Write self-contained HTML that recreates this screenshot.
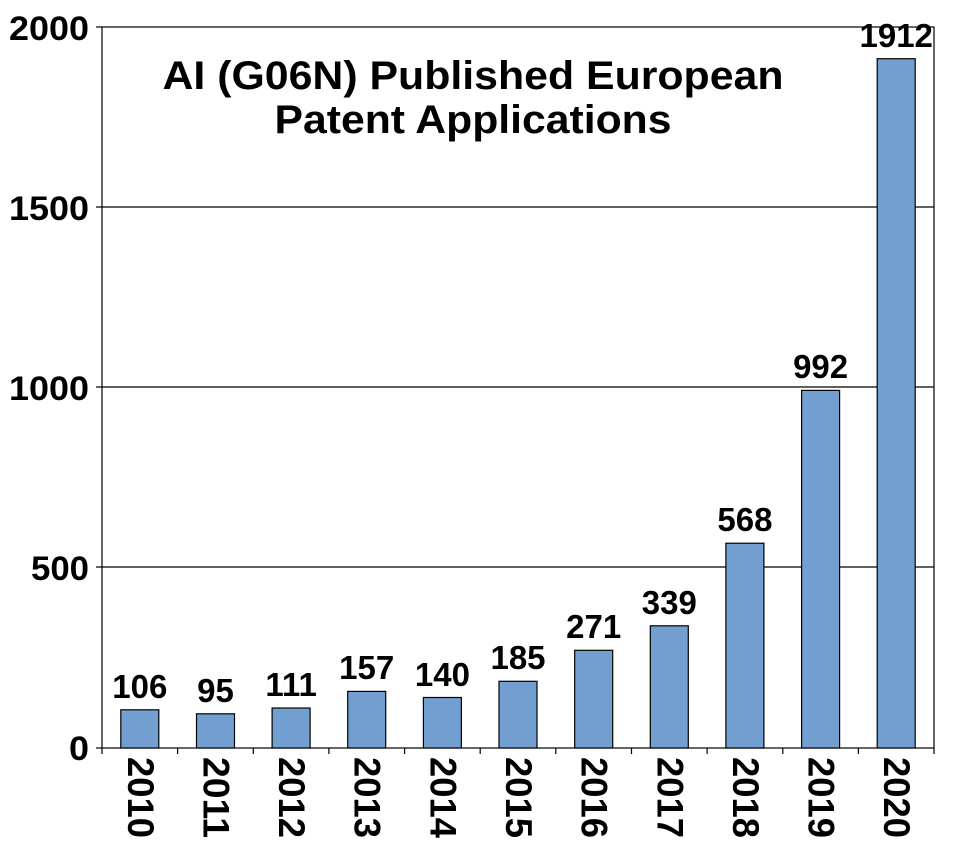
<!DOCTYPE html>
<html><head><meta charset="utf-8"><style>body{margin:0;background:#fff}svg{display:block}text{font-family:"Liberation Sans",Arial,sans-serif;font-weight:bold;fill:#000}</style></head>
<body>
<svg width="960" height="854" viewBox="0 0 960 854" xmlns="http://www.w3.org/2000/svg">
<g stroke="#000" stroke-width="1.2" fill="none">
<line x1="102" y1="207" x2="934" y2="207"/>
<line x1="102" y1="387" x2="934" y2="387"/>
<line x1="102" y1="567" x2="934" y2="567"/>
<rect x="102" y="27" width="832" height="721"/>
<line x1="96" y1="27" x2="102" y2="27"/>
<line x1="96" y1="207" x2="102" y2="207"/>
<line x1="96" y1="387" x2="102" y2="387"/>
<line x1="96" y1="567" x2="102" y2="567"/>
<line x1="96" y1="748" x2="102" y2="748"/>
<line x1="102" y1="748" x2="102" y2="754"/>
<line x1="177.6" y1="748" x2="177.6" y2="754"/>
<line x1="253.3" y1="748" x2="253.3" y2="754"/>
<line x1="328.9" y1="748" x2="328.9" y2="754"/>
<line x1="404.6" y1="748" x2="404.6" y2="754"/>
<line x1="480.2" y1="748" x2="480.2" y2="754"/>
<line x1="555.8" y1="748" x2="555.8" y2="754"/>
<line x1="631.5" y1="748" x2="631.5" y2="754"/>
<line x1="707.1" y1="748" x2="707.1" y2="754"/>
<line x1="782.8" y1="748" x2="782.8" y2="754"/>
<line x1="858.4" y1="748" x2="858.4" y2="754"/>
<line x1="934" y1="748" x2="934" y2="754"/>
</g>
<g font-size="34" text-anchor="end">
<text x="89" y="760" textLength="20" lengthAdjust="spacingAndGlyphs">0</text>
<text x="89" y="580" textLength="58" lengthAdjust="spacingAndGlyphs">500</text>
<text x="89" y="400" textLength="80" lengthAdjust="spacingAndGlyphs">1000</text>
<text x="89" y="220" textLength="80" lengthAdjust="spacingAndGlyphs">1500</text>
<text x="89" y="40" textLength="80" lengthAdjust="spacingAndGlyphs">2000</text>
</g>
<g font-size="40" text-anchor="middle">
<text x="473" y="89" textLength="621" lengthAdjust="spacingAndGlyphs">AI (G06N) Published European</text>
<text x="473" y="133" textLength="397" lengthAdjust="spacingAndGlyphs">Patent Applications</text>
</g>
<g fill="#729fcf" stroke="#000" stroke-width="1.2">
<rect x="120.8" y="709.8" width="38" height="38.2"/>
<rect x="196.5" y="713.8" width="38" height="34.2"/>
<rect x="272.1" y="708.0" width="38" height="40.0"/>
<rect x="347.7" y="691.4" width="38" height="56.6"/>
<rect x="423.4" y="697.5" width="38" height="50.5"/>
<rect x="499.0" y="681.3" width="38" height="66.7"/>
<rect x="574.7" y="650.3" width="38" height="97.7"/>
<rect x="650.3" y="625.8" width="38" height="122.2"/>
<rect x="725.9" y="543.2" width="38" height="204.8"/>
<rect x="801.6" y="390.4" width="38" height="357.6"/>
<rect x="877.2" y="58.7" width="38" height="689.3"/>
</g>
<g font-size="33" text-anchor="middle">
<text x="139.8" y="698">106</text>
<text x="215.5" y="702">95</text>
<text x="291.1" y="696">111</text>
<text x="366.7" y="679">157</text>
<text x="442.4" y="686">140</text>
<text x="518.0" y="669">185</text>
<text x="593.7" y="638">271</text>
<text x="669.3" y="614">339</text>
<text x="744.9" y="531">568</text>
<text x="820.6" y="378">992</text>
<text x="896.2" y="47">1912</text>
</g>
<g font-size="37">
<text transform="translate(127.8,757) rotate(90)" textLength="81" lengthAdjust="spacingAndGlyphs">2010</text>
<text transform="translate(203.5,757) rotate(90)" textLength="81" lengthAdjust="spacingAndGlyphs">2011</text>
<text transform="translate(279.1,757) rotate(90)" textLength="81" lengthAdjust="spacingAndGlyphs">2012</text>
<text transform="translate(354.7,757) rotate(90)" textLength="81" lengthAdjust="spacingAndGlyphs">2013</text>
<text transform="translate(430.4,757) rotate(90)" textLength="81" lengthAdjust="spacingAndGlyphs">2014</text>
<text transform="translate(506.0,757) rotate(90)" textLength="81" lengthAdjust="spacingAndGlyphs">2015</text>
<text transform="translate(581.7,757) rotate(90)" textLength="81" lengthAdjust="spacingAndGlyphs">2016</text>
<text transform="translate(657.3,757) rotate(90)" textLength="81" lengthAdjust="spacingAndGlyphs">2017</text>
<text transform="translate(732.9,757) rotate(90)" textLength="81" lengthAdjust="spacingAndGlyphs">2018</text>
<text transform="translate(808.6,757) rotate(90)" textLength="81" lengthAdjust="spacingAndGlyphs">2019</text>
<text transform="translate(884.2,757) rotate(90)" textLength="81" lengthAdjust="spacingAndGlyphs">2020</text>
</g>
</svg>
</body></html>
